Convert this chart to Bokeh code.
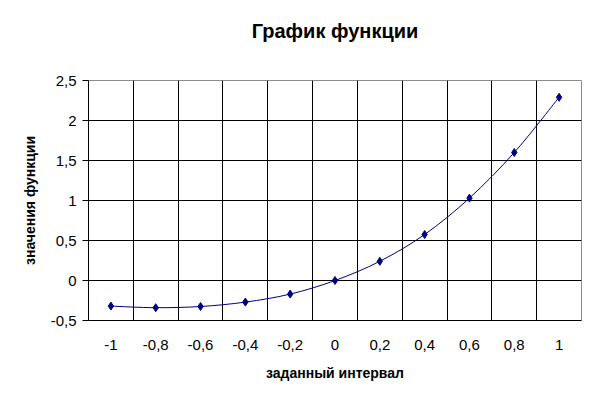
import numpy as np
from bokeh.plotting import figure
from bokeh.models import FixedTicker, Range1d
from bokeh.embed import file_html
from bokeh.resources import INLINE

# Data
x_vals = [-1.0, -0.8, -0.6, -0.4, -0.2, 0.0, 0.2, 0.4, 0.6, 0.8, 1.0]
y_vals = [-0.32, -0.34, -0.325, -0.27, -0.17, 0.0, 0.24, 0.575, 1.03, 1.60, 2.29]
x_labels = ["-1", "-0,8", "-0,6", "-0,4", "-0,2", "0", "0,2", "0,4", "0,6", "0,8", "1"]
y_ticks = [-0.5, 0.0, 0.5, 1.0, 1.5, 2.0, 2.5]
y_labels = ["-0,5", "0", "0,5", "1", "1,5", "2", "2,5"]

title = "График функции"
x_title = "заданный интервал"
y_title = "значения функции"

FONT = "Liberation Sans"
NAVY = "#000080"

xs = np.array(x_vals)
ys = np.array(y_vals)
step = xs[1] - xs[0]

p = figure(width=585, height=385, output_backend="svg", toolbar_location=None,
           x_range=Range1d(xs[0] - step / 2, xs[-1] + step / 2),
           y_range=Range1d(y_ticks[0], y_ticks[-1]),
           min_border_left=88, min_border_right=4, min_border_top=80,
           min_border_bottom=65)

# a blank second line makes the title box taller so the text sits higher
p.title.text = title + "\n "
p.title.align = "center"
p.title.vertical_align = "top"
p.title.text_font = FONT
p.title.text_font_size = "20px"
p.title.text_font_style = "bold"
p.title.text_color = "#000000"
p.title.offset = 0
p.title.standoff = 29

# grid at category boundaries (midpoints between x values)
bounds = list((xs[:-1] + xs[1:]) / 2)
p.xgrid.ticker = FixedTicker(ticks=bounds)
p.xgrid.grid_line_color = "#000000"
p.ygrid.ticker = FixedTicker(ticks=y_ticks)
p.ygrid.grid_line_color = "#000000"

p.outline_line_color = "#8c8c8c"
p.background_fill_color = "white"
p.border_fill_color = "white"

# x axis
p.xaxis.ticker = FixedTicker(ticks=x_vals)
p.xaxis.major_label_overrides = {v: l for v, l in zip(x_vals, x_labels)}
p.xaxis.major_tick_out = 0
p.xaxis.major_tick_in = 0
p.xaxis.minor_tick_line_color = None
p.xaxis.axis_line_color = "#000000"
p.xaxis.major_label_text_font = FONT
p.xaxis.major_label_text_font_size = "15px"
p.xaxis.major_label_text_color = "#000000"
p.xaxis.major_label_standoff = 19
p.xaxis.axis_label = x_title
p.xaxis.axis_label_text_font = FONT
p.xaxis.axis_label_text_font_size = "14px"
p.xaxis.axis_label_text_font_style = "bold"
p.xaxis.axis_label_text_color = "#000000"
p.xaxis.axis_label_standoff = 12

# y axis
p.yaxis.ticker = FixedTicker(ticks=y_ticks)
p.yaxis.major_label_overrides = {v: l for v, l in zip(y_ticks, y_labels)}
p.yaxis.major_tick_out = 6
p.yaxis.major_tick_in = 0
p.yaxis.minor_tick_line_color = None
p.yaxis.axis_line_color = "#000000"
p.yaxis.major_tick_line_color = "#000000"
p.yaxis.major_label_text_font = FONT
p.yaxis.major_label_text_font_size = "15px"
p.yaxis.major_label_text_color = "#000000"
p.yaxis.major_label_standoff = 6
p.yaxis.axis_label = y_title
p.yaxis.axis_label_text_font = FONT
p.yaxis.axis_label_text_font_size = "14px"
p.yaxis.axis_label_text_font_style = "bold"
p.yaxis.axis_label_text_color = "#000000"
p.yaxis.axis_label_standoff = 10

# smoothed line (Catmull-Rom style bezier between the data points)
px = np.concatenate([[xs[0]], xs, [xs[-1]]])
py = np.concatenate([[ys[0]], ys, [ys[-1]]])
n = len(xs)
x0 = xs[:-1]; y0 = ys[:-1]; x1 = xs[1:]; y1 = ys[1:]
cx0 = px[1:n] + (px[2:n + 1] - px[0:n - 1]) / 6
cy0 = py[1:n] + (py[2:n + 1] - py[0:n - 1]) / 6
cx1 = px[2:n + 1] - (px[3:n + 2] - px[1:n]) / 6
cy1 = py[2:n + 1] - (py[3:n + 2] - py[1:n]) / 6
p.bezier(x0=x0, y0=y0, x1=x1, y1=y1, cx0=cx0, cy0=cy0, cx1=cx1, cy1=cy1,
         line_color=NAVY, line_width=1)

p.scatter(xs, ys, marker="diamond", size=8, fill_color=NAVY, line_color=NAVY)

open("out.html", "w").write(file_html(p, INLINE))
